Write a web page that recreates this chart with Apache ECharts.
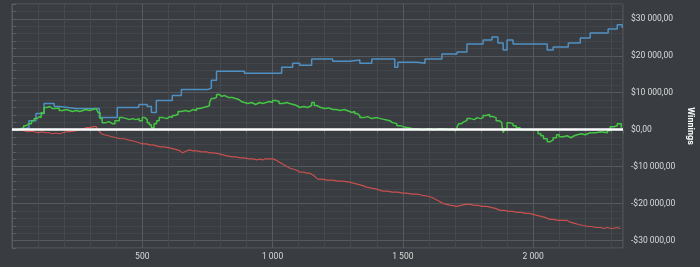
<!DOCTYPE html>
<html><head><meta charset="utf-8">
<script src="https://cdn.jsdelivr.net/npm/echarts@6/dist/echarts.min.js"></script>
<style>html,body{margin:0;padding:0;background:#393c40;}#c{width:700px;height:267px;}</style>
</head><body><div id="c"></div>
<script>
// hands played (x) vs winnings in $ (y)
const blueSeries = [[0,0],[15,0],[35,500],[65,2450],[92,4360],[123,7090],[162,6270],[181,5730],[246,5730],[335,3270],[365,3270],[404,6000],[485,6000],[488,6820],[519,6270],[535,4640],[554,7910],[615,9270],[650,10900],[750,11180],[765,13360],[785,15820],[892,15270],[1035,16900],[1077,18000],[1104,17450],[1150,19090],[1231,18540],[1296,18820],[1335,18000],[1381,19090],[1450,19090],[1469,16900],[1481,18270],[1554,18000],[1585,19090],[1650,20450],[1708,21000],[1746,23180],[1808,24270],[1842,25090],[1865,23450],[1885,21540],[1900,24270],[1923,23180],[2046,23180],[2054,21540],[2077,22360],[2135,23450],[2181,24820],[2219,26180],[2288,27270],[2323,28360],[2342,27540]];
const greenSeries = [[0,0],[15,0],[25,300],[35,545],[45,1100],[55,1640],[65,1640],[75,2450],[85,3000],[95,3500],[104,3270],[112,4640],[118,4360],[123,6000],[135,6270],[145,5730],[154,5730],[165,5450],[172,5900],[181,5180],[195,5450],[208,5180],[220,4910],[232,5180],[246,4910],[260,5180],[272,5450],[285,5180],[296,5450],[310,5730],[323,5730],[330,4640],[338,3000],[346,1910],[360,2180],[372,1640],[385,1640],[395,2450],[412,3270],[425,3000],[440,2730],[450,3000],[462,2730],[475,3000],[488,2450],[500,3270],[510,2730],[519,1910],[527,1360],[535,545],[545,1640],[555,2450],[565,3270],[580,3000],[595,3540],[605,3270],[615,3820],[625,4090],[637,4910],[650,5180],[665,4910],[680,5450],[694,5180],[708,5730],[720,6000],[735,6270],[750,6540],[758,7360],[765,8450],[775,8730],[785,9540],[795,9000],[805,9270],[815,8730],[830,8730],[846,8450],[858,8180],[870,7640],[880,7360],[892,7090],[905,7360],[920,6820],[935,7360],[950,7090],[962,7360],[975,7640],[988,7360],[1000,7910],[1012,7640],[1025,7090],[1040,7360],[1054,7090],[1065,6820],[1080,6540],[1092,6000],[1105,6270],[1120,6000],[1135,6540],[1150,7360],[1160,6540],[1169,6000],[1185,5730],[1200,5900],[1215,5450],[1231,5450],[1245,5180],[1260,5450],[1275,4910],[1296,4640],[1305,4910],[1315,4360],[1325,3820],[1335,3270],[1350,3540],[1365,3000],[1380,3270],[1400,3000],[1415,2730],[1430,2450],[1450,1910],[1460,1640],[1477,1090],[1490,820],[1500,545],[1520,270],[1540,270],[1554,0],[1575,270],[1600,0],[1620,270],[1642,270],[1660,0],[1680,270],[1692,-270],[1700,270],[1708,820],[1715,1640],[1725,2180],[1735,2450],[1746,3000],[1760,2730],[1775,3270],[1785,3000],[1798,3270],[1808,3820],[1820,4090],[1833,3540],[1846,3270],[1858,2450],[1870,1910],[1880,1360],[1885,-820],[1892,270],[1900,1910],[1910,1640],[1923,1090],[1935,545],[1950,0],[1980,0],[2008,0],[2019,-1090],[2030,-1640],[2040,-2450],[2054,-3270],[2065,-2730],[2077,-2180],[2090,-1360],[2100,-1910],[2115,-1640],[2131,-2180],[2145,-1640],[2158,-1360],[2169,-1090],[2185,-1360],[2200,-820],[2219,-820],[2240,-545],[2260,-820],[2285,-270],[2296,820],[2310,1090],[2323,1640],[2338,545]];
const redSeries = [[0,0],[20,-270],[35,-100],[46,-270],[60,-545],[75,-400],[85,-545],[100,-820],[115,-600],[130,-820],[142,-820],[155,-1090],[168,-900],[181,-1090],[195,-820],[210,-545],[225,-545],[246,-270],[260,0],[275,270],[285,545],[300,545],[312,820],[323,820],[330,0],[342,-1090],[355,-1360],[370,-1640],[385,-1910],[400,-2180],[415,-2450],[430,-2450],[445,-2730],[462,-3000],[475,-3270],[488,-3540],[500,-3820],[515,-3820],[530,-4090],[542,-4090],[554,-4360],[570,-4640],[585,-4640],[604,-4910],[620,-5180],[635,-5450],[645,-5730],[654,-6270],[665,-5900],[681,-5450],[695,-5730],[710,-5730],[725,-6000],[746,-6000],[760,-6270],[775,-6270],[796,-6540],[810,-6820],[825,-7090],[846,-7360],[860,-7360],[875,-7640],[890,-7640],[911,-7910],[925,-7910],[940,-8180],[950,-7910],[962,-8180],[970,-7910],[977,-7640],[985,-7910],[1000,-7910],[1012,-8180],[1025,-8730],[1038,-9270],[1052,-9820],[1065,-10360],[1078,-10640],[1090,-10910],[1104,-11450],[1118,-11450],[1130,-11730],[1142,-11730],[1155,-12270],[1165,-12820],[1173,-13360],[1190,-13360],[1210,-13640],[1231,-13640],[1250,-13910],[1270,-13910],[1296,-14180],[1310,-14450],[1325,-14730],[1340,-15000],[1361,-15540],[1380,-15820],[1400,-16090],[1423,-16630],[1440,-16630],[1460,-16900],[1480,-16900],[1500,-17180],[1515,-17180],[1535,-17450],[1555,-17450],[1575,-17730],[1596,-18000],[1610,-18270],[1625,-18820],[1640,-19360],[1654,-19910],[1668,-20180],[1685,-20450],[1708,-20730],[1722,-20450],[1740,-20180],[1758,-20180],[1775,-20450],[1790,-20450],[1805,-20730],[1823,-20730],[1838,-21000],[1855,-21270],[1873,-21820],[1890,-21820],[1905,-22090],[1920,-22090],[1938,-22360],[1955,-22360],[1970,-22640],[1985,-22640],[2000,-22910],[2015,-23180],[2030,-23450],[2045,-23730],[2065,-24270],[2080,-24270],[2095,-24540],[2110,-24540],[2131,-24540],[2145,-25090],[2160,-25360],[2175,-25640],[2192,-25910],[2210,-26180],[2225,-26180],[2240,-26450],[2258,-26450],[2272,-26730],[2285,-26450],[2300,-26730],[2308,-26730],[2320,-26450],[2335,-26730]];
const yTickLabels = [-30000,-20000,-10000,0,10000,20000,30000];
const xTickLabels = [500,1000,1500,2000];

function fmtNum(a){ return String(a).replace(/\B(?=(\d{3})+(?!\d))/g,' '); }
function money(v){ return (v<0?'-':'') + '$' + fmtNum(Math.abs(v)) + ',00'; }

const font = 'Roboto';
const chart = echarts.init(document.getElementById('c'), null, {renderer:'canvas'});
chart.setOption({
  backgroundColor:'#393c40',
  animation:false,
  grid:{left:12,right:77,top:4,bottom:19,show:true,borderColor:'#5a5d61',borderWidth:1,backgroundColor:'transparent',outerBoundsMode:'none',containLabel:false},
  xAxis:{type:'value',min:0,max:2345,interval:100,
    axisLine:{show:false},
    axisTick:{show:true,length:4,lineStyle:{color:'#5a5d61'}},
    axisLabel:{margin:4,color:'#dadada',fontFamily:font,fontSize:8.5,
      formatter:function(v){return xTickLabels.indexOf(v)>=0?fmtNum(v):'';}},
    splitLine:{show:true,lineStyle:{color:['#56595d','#46494d','#46494d','#46494d','#46494d'],width:1}}
  },
  yAxis:{type:'value',position:'right',min:-32000,max:34000,interval:2000,
    name:'Winnings',nameLocation:'middle',nameGap:50,nameRotate:-90,
    nameTextStyle:{color:'#ffffff',fontWeight:'bold',fontFamily:font,fontSize:9},
    axisLine:{show:false},
    axisTick:{show:true,length:4,lineStyle:{color:'#5a5d61'}},
    axisLabel:{margin:8,color:'#dadada',fontFamily:font,fontSize:8.5,
      formatter:function(v){return yTickLabels.indexOf(v)>=0?money(v):'';}},
    splitLine:{show:true,lineStyle:{color:['#424549','#56595d','#424549','#424549','#424549'],width:1}}
  },
  series:[
    {type:'line',data:redSeries,showSymbol:false,lineStyle:{color:'#c8504e',width:1.2},itemStyle:{color:'#c8504e'}},
    {type:'line',data:blueSeries,step:'end',showSymbol:false,lineStyle:{color:'#4f90c4',width:1.5},itemStyle:{color:'#4f90c4'}},
    {type:'line',data:greenSeries,step:'end',showSymbol:false,lineStyle:{color:'#44c644',width:1.5},itemStyle:{color:'#44c644'},
      markLine:{silent:true,symbol:['none','none'],label:{show:false},lineStyle:{color:'#ffffff',width:2.5,type:'solid'},data:[{yAxis:0}]}}
  ]
});
</script></body></html>
